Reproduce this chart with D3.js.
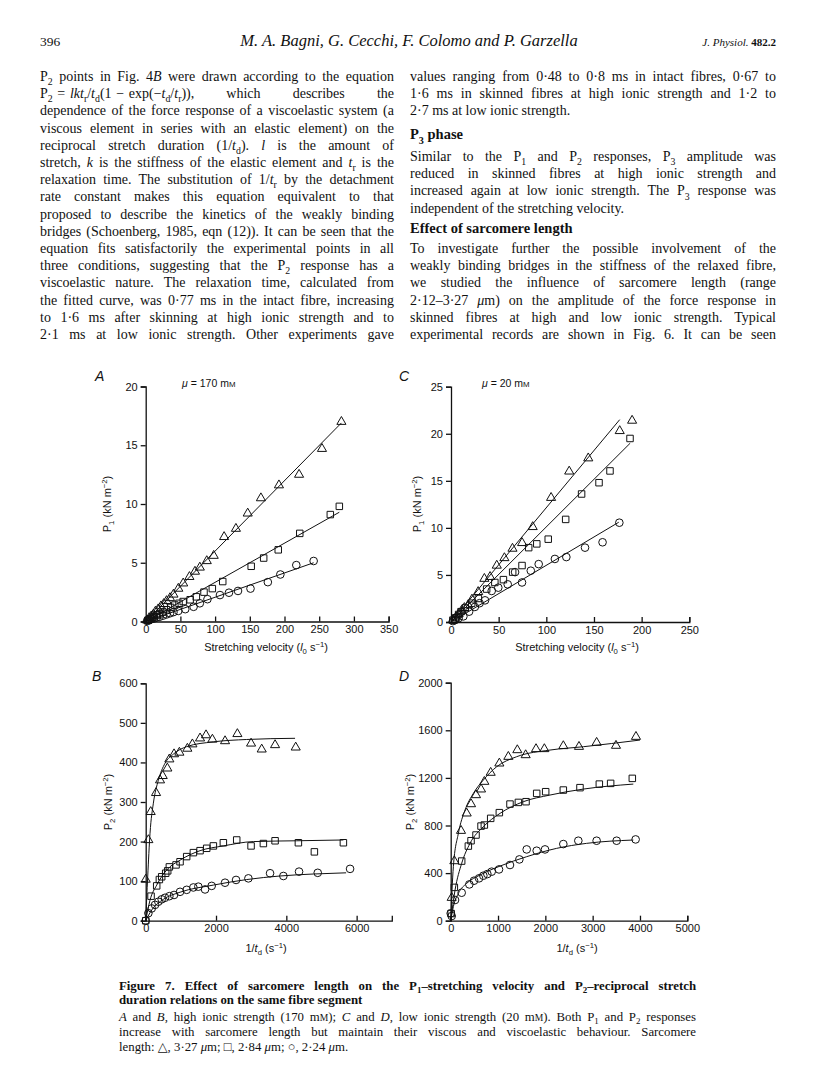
<!DOCTYPE html>
<html><head><meta charset="utf-8">
<script src="https://cdn.jsdelivr.net/npm/d3@7"></script>
<style>body{margin:0;background:#fff}svg{display:block}</style>
</head><body>
<svg id="page" width="816" height="1091"></svg>
<script>
// ---------------- DATA ----------------
// Panel A: P1 (kN m-2) vs stretching velocity (l0 s-1), mu = 170 mM
const aTri=[[2,0.1],[5,0.3],[8,0.45],[11,0.6],[14,0.85],[18,1.05],[22,1.3],[26,1.5],[30,1.75],[35,2.0],[40,2.3],[47,2.8],[54,3.25],[63,3.8],[71,4.25],[78,4.6],[88,5.15],[98,5.6],[113,7.2],[130,7.9],[147,9.2],[166,10.5],[192,11.6],[221,12.5],[254,14.7],[282,17.0]];
const aSq=[[3,0.1],[6,0.2],[9,0.3],[12,0.4],[16,0.55],[20,0.65],[25,0.8],[30,1.0],[36,1.2],[42,1.4],[48,1.55],[54,1.7],[64,1.85],[73,2.1],[84,2.5],[96,2.8],[111,3.4],[152,4.7],[170,5.4],[191,6.1],[222,7.5],[266,9.1],[279,9.8]];
const aCirc=[[2,0.05],[5,0.1],[8,0.2],[12,0.25],[16,0.35],[20,0.4],[25,0.5],[30,0.6],[35,0.7],[40,0.8],[47,0.9],[57,1.05],[69,1.25],[78,1.55],[89,1.9],[107,2.25],[120,2.45],[133,2.6],[151,2.8],[176,3.35],[194,4.0],[217,4.8],[242,5.15]];
const aFitTri=[[0,0],[282,16.9]];
const aFitSq=[[0,0],[279,9.3]];
const aFitCirc=[[0,0],[242,5.0]];
// Panel C: P1 vs stretching velocity, mu = 20 mM
const cTri=[[2,0.2],[5,0.5],[8,0.85],[11,1.2],[14,1.5],[18,1.8],[22,2.4],[28.5,3.2],[35,4.6],[41,4.8],[48,6.0],[56,6.8],[64.5,7.8],[74.6,8.4],[85.7,10.1],[105,13.2],[124,16.0],[144,17.4],[177,20.3],[190,21.4]];
const cSq=[[2,0.2],[5,0.45],[8,0.8],[10.5,1.1],[15,1.5],[21.7,2.0],[28.7,2.5],[37.4,3.5],[46,4.2],[55,4.5],[64.7,5.3],[74.5,6.0],[81.5,7.9],[90,8.3],[102,8.8],[120.3,10.9],[137,13.6],[155.3,14.8],[166.8,16.05],[187.8,19.5]];
const cCirc=[[2,0.1],[4.2,0.2],[8,0.4],[13,0.6],[19,1.1],[25,1.6],[30,2.0],[35.7,2.3],[42.7,3.3],[49.6,3.65],[59.5,4.0],[67.2,5.3],[74.5,4.2],[83.7,5.45],[92,6.15],[109,6.7],[121,6.9],[140.6,7.9],[159,8.47],[176.6,10.55]];
const cFitTri=[[0,0],[177,21.5]];
const cFitSq=[[0,0],[188,19.0]];
const cFitCirc=[[0,0],[176,10.6]];
// Panel B: P2 (kN m-2) vs 1/td (s-1), mu = 170 mM
const bTri=[[0,104],[76,204],[142,275],[294,323],[408,355],[484,366],[616,385],[673,408],[806,421],[958,425],[1185,435],[1328,446],[1546,461],[1716,469],[1897,458],[2257,454],[2608,472],[2997,448],[3300,433],[3680,444],[4267,438]];
const bSq=[[0,0],[152,62],[313,88],[389,104],[455,111],[569,120],[626,126],[673,136],[863,141],[977,149],[1166,162],[1356,172],[1546,177],[1735,183],[1925,189],[2209,197],[2589,204],[2997,189],[3347,195],[3680,202],[4343,197],[4798,174],[5623,197]];
const bCirc=[[0,0],[76,19],[171,31],[266,40],[360,48],[455,54],[550,58],[673,62],[806,65],[977,73],[1166,78],[1356,84],[1498,86],[1688,79],[1877,88],[2257,96],[2570,103],[2921,107],[3537,120],[3916,113],[4362,124],[4893,121],[5813,131]];
const bFitTri=[[0,0],[57,111],[123,221],[218,297],[360,355],[550,398],[787,421],[1166,440],[1925,452],[2873,458],[4248,461]];
const bFitSq=[[0,0],[123,52],[313,90],[597,128],[977,153],[1546,177],[2209,189],[3063,200],[4296,202],[5623,204]];
const bFitCirc=[[0,0],[171,27],[503,54],[977,72],[1925,90],[2873,104],[3822,113],[4770,118],[5700,121]];
// Panel D: P2 vs 1/td, mu = 20 mM
const dTri=[[21,193],[77,501],[218,756],[338,902],[430,980],[535,1056],[641,1104],[711,1168],[845,1244],[1028,1322],[1218,1378],[1408,1434],[1584,1392],[1803,1443],[1979,1443],[2380,1468],[2711,1462],[3084,1496],[3493,1471],[3915,1546]];
const dSq=[[10,60],[77,280],[232,501],[373,627],[430,672],[535,720],[641,795],[711,804],[845,860],[1028,908],[1253,980],[1430,994],[1592,1000],[1817,1070],[2007,1084],[2380,1098],[2732,1118],[3141,1148],[3380,1154],[3838,1196]];
const dCirc=[[0,62],[21,39],[92,174],[232,235],[394,305],[493,336],[599,356],[690,378],[775,392],[866,412],[1021,431],[1253,468],[1451,515],[1606,599],[1817,588],[1993,599],[2380,644],[2697,672],[3084,672],[3507,672],[3908,683]];
const dFitTri=[[0,0],[56,454],[162,734],[303,930],[479,1070],[690,1182],[972,1294],[1394,1378],[2099,1434],[2803,1462],[4000,1518]];
const dFitSq=[[0,0],[92,258],[232,482],[408,650],[690,790],[1042,902],[1535,1000],[2099,1056],[2803,1106],[3859,1148]];
const dFitCirc=[[0,0],[56,118],[162,230],[338,314],[620,384],[1042,459],[1606,538],[2239,608],[2873,650],[3859,678]];
// Tick values
const aXTicks=[0,50,100,150,200,250,300,350], aYTicks=[0,5,10,15,20];
const cXTicks=[0,50,100,150,200,250], cYTicks=[0,5,10,15,20,25];
const bXTicks=[0,2000,4000,6000], bYTicks=[0,100,200,300,400,500,600];
const dXTicks=[0,1000,2000,3000,4000,5000], dYTicks=[0,400,800,1200,1600,2000];
// Texts
const panelLetters=["A","B","C","D"];
const muLabels=["{i:μ} = 170 m{k:M}","{i:μ} = 20 m{k:M}"];
const p1Title="P{s:1} (kN m{p:−2})", p2Title="P{s:2} (kN m{p:−2})";
const velTitle="Stretching velocity ({i:l}{s:0} s{p:−1})", tdTitle="1/{i:t}{s:d} (s{p:−1})";
const headerLeft="396", headerTitle="M. A. Bagni, G. Cecchi, F. Colomo and P. Garzella";
const leftCol=[
"P{s:2} points in Fig. 4{i:B} were drawn according to the equation",
"P{s:2}\u2004=\u2004{i:lkt}{s:r}/{i:t}{s:d}(1\u2004−\u2004exp(−{i:t}{s:d}/{i:t}{s:r})), which describes the",
"dependence of the force response of a viscoelastic system (a",
"viscous element in series with an elastic element) on the",
"reciprocal stretch duration (1/{i:t}{s:d}). {i:l} is the amount of",
"stretch, {i:k} is the stiffness of the elastic element and {i:t}{s:r} is the",
"relaxation time. The substitution of 1/{i:t}{s:r} by the detachment",
"rate constant makes this equation equivalent to that",
"proposed to describe the kinetics of the weakly binding",
"bridges (Schoenberg, 1985, eqn (12)). It can be seen that the",
"equation fits satisfactorily the experimental points in all",
"three conditions, suggesting that the P{s:2} response has a",
"viscoelastic nature. The relaxation time, calculated from",
"the fitted curve, was 0·77 ms in the intact fibre, increasing",
"to 1·6 ms after skinning at high ionic strength and to",
"2·1 ms at low ionic strength. Other experiments gave"];
const rightCol=[
["values ranging from 0·48 to 0·8 ms in intact fibres, 0·67 to",0,"j"],
["1·6 ms in skinned fibres at high ionic strength and 1·2 to",1,"j"],
["2·7 ms at low ionic strength.",2,"n"],
["P{s:3} phase",3.4,"h"],
["Similar to the P{s:1} and P{s:2} responses, P{s:3} amplitude was",4.65,"j"],
["reduced in skinned fibres at high ionic strength and",5.65,"j"],
["increased again at low ionic strength. The P{s:3} response was",6.65,"j"],
["independent of the stretching velocity.",7.65,"n"],
["Effect of sarcomere length",8.85,"h"],
["To investigate further the possible involvement of the",10,"j"],
["weakly binding bridges in the stiffness of the relaxed fibre,",11,"j"],
["we studied the influence of sarcomere length (range",12,"j"],
["2·12–3·27 {i:μ}m) on the amplitude of the force response in",13,"j"],
["skinned fibres at high and low ionic strength. Typical",14,"j"],
["experimental records are shown in Fig. 6. It can be seen",15,"j"]];
const caption=[
["Figure 7. Effect of sarcomere length on the P{s:1}–stretching velocity and P{s:2}–reciprocal stretch","bj"],
["duration relations on the same fibre segment","b"],
["{i:A} and {i:B}, high ionic strength (170 m{k:M}); {i:C} and {i:D}, low ionic strength (20 m{k:M}). Both P{s:1} and P{s:2} responses","j"],
["increase with sarcomere length but maintain their viscous and viscoelastic behaviour. Sarcomere","j"],
["length: △, 3·27 {i:μ}m; □, 2·84 {i:μ}m; ○, 2·24 {i:μ}m.","n"]];

// ---------------- DRAW ----------------
const svg=d3.select("#page");
svg.append("rect").attr("width",816).attr("height",1091).attr("fill","#fff");
const SERIF="'Liberation Serif','DejaVu Serif',serif", SANS="'Liberation Sans',Arial,sans-serif";

function rich(parent,str,fs,x,y,opts={}){
  const t=parent.append("text").attr("x",x).attr("y",y).attr("font-size",fs)
    .attr("font-family",opts.family||SERIF).attr("fill","#111");
  if(opts.weight) t.attr("font-weight",opts.weight);
  if(opts.style) t.attr("font-style",opts.style);
  if(opts.anchor) t.attr("text-anchor",opts.anchor);
  const re=/\{([sipk]):([^}]*)\}/g; let last=0,m; const segs=[];
  while((m=re.exec(str))){ if(m.index>last) segs.push({k:"n",t:str.slice(last,m.index)}); segs.push({k:m[1],t:m[2]}); last=re.lastIndex; }
  if(last<str.length) segs.push({k:"n",t:str.slice(last)});
  let shift=0; const sub=opts.sub||0.3;
  segs.forEach(s=>{
    const want=s.k==="s"?fs*sub:s.k==="p"?-fs*0.4:0;
    const ts=t.append("tspan").text(s.t);
    if(want!==shift){ts.attr("dy",want-shift);shift=want;}
    if(s.k==="s"||s.k==="p") ts.attr("font-size",fs*0.7);
    if(s.k==="k") ts.attr("font-size",fs*0.75);
    if(s.k==="i") ts.attr("font-style","italic");
  });
  if(opts.width){
    const len=t.node().getComputedTextLength();
    const plain=segs.map(s=>s.t).join("");
    const n=(plain.match(/ /g)||[]).length;
    if(len>opts.width||n===0||opts.fit){ t.attr("textLength",opts.width).attr("lengthAdjust","spacingAndGlyphs"); }
    else t.style("word-spacing",((opts.width-len)/n)+"px");
  }
  return t;
}

// header
const hdr=svg.append("g");
rich(hdr,headerLeft,13.5,40,46);
rich(hdr,headerTitle,16.5,409,46,{style:"italic",anchor:"middle"});
const jp=hdr.append("text").attr("x",776).attr("y",46).attr("text-anchor","end").attr("font-family",SERIF).attr("font-size",11).attr("fill","#111");
jp.append("tspan").attr("font-style","italic").text("J. Physiol. ");
jp.append("tspan").attr("font-weight","bold").text("482.2");

// body columns
const row0=81, rowH=17.2, colL=40, colR=410, colW=354, colWR=366;
const body=svg.append("g");
leftCol.forEach((s,i)=>rich(body,s,14,colL,row0+i*rowH,{width:colW}));
rightCol.forEach(([s,r,k])=>{
  if(k==="h") rich(body,s,14.5,colR,row0+r*rowH,{weight:"bold"});
  else rich(body,s,14,colR,row0+r*rowH,k==="j"?{width:colWR}:{});
});

// panels
const tri=d3.symbol().type(d3.symbolTriangle).size(36);
const sqr=d3.symbol().type(d3.symbolSquare).size(42);
const cir=d3.symbol().type(d3.symbolCircle).size(46);

function panel(cfg){
  const g=svg.append("g");
  const x=d3.scaleLinear().domain(cfg.xDom).range(cfg.xR);
  const y=d3.scaleLinear().domain(cfg.yDom).range(cfg.yR);
  const xa=d3.axisBottom(x).tickValues(cfg.xTicks).tickSizeInner(-5).tickSizeOuter(-5).tickPadding(4).tickFormat(d3.format("d"));
  const ya=d3.axisLeft(y).tickValues(cfg.yTicks).tickSizeInner(5).tickSizeOuter(5).tickPadding(3).tickFormat(d3.format("d"));
  const gx=g.append("g").attr("transform",`translate(0,${cfg.yR[0]})`).call(xa);
  const gy=g.append("g").attr("transform",`translate(${cfg.xR[0]},0)`).call(ya);
  [gx,gy].forEach(a=>{a.attr("font-family",SANS).attr("font-size",11);
    a.selectAll("path,line").attr("stroke","#111").attr("stroke-width",1.3);
    a.selectAll("text").attr("fill","#111");});
  const line=d3.line().x(d=>x(d[0])).y(d=>y(d[1])).curve(cfg.curve||d3.curveLinear);
  const series=[[cfg.fits[0],cfg.pts[0],tri],[cfg.fits[1],cfg.pts[1],sqr],[cfg.fits[2],cfg.pts[2],cir]];
  series.forEach(([fit,pts,sym])=>{
    g.append("path").attr("d",line(fit)).attr("fill","none").attr("stroke","#111").attr("stroke-width",1);
    g.selectAll(null).data(pts).join("path").attr("d",sym)
      .attr("transform",d=>`translate(${x(d[0])},${y(d[1])})`)
      .attr("fill","none").attr("stroke","#111").attr("stroke-width",1);
  });
  rich(g,cfg.letter,14,cfg.letterXY[0],cfg.letterXY[1],{family:SANS,style:"italic"});
  if(cfg.mu) rich(g,cfg.mu,10.5,cfg.muXY[0],cfg.muXY[1],{family:SANS});
  const yt=rich(g,cfg.yTitle,11,0,0,{family:SANS,anchor:"middle"});
  yt.attr("transform",`translate(${cfg.yTitleXY[0]},${cfg.yTitleXY[1]}) rotate(-90)`);
  rich(g,cfg.xTitle,11,cfg.xTitleXY[0],cfg.xTitleXY[1],{family:SANS,anchor:"middle"});
}

panel({xDom:[0,350],xR:[145.7,388.6],yDom:[0,20],yR:[621.5,386.5],xTicks:aXTicks,yTicks:aYTicks,
  pts:[aTri,aSq,aCirc],fits:[aFitTri,aFitSq,aFitCirc],letter:panelLetters[0],letterXY:[95,381],
  mu:muLabels[0],muXY:[182,387],yTitle:p1Title,yTitleXY:[111,504],xTitle:velTitle,xTitleXY:[266,651]});
panel({xDom:[0,7000],xR:[145.7,391.8],yDom:[0,600],yR:[920.7,683.3],xTicks:bXTicks,yTicks:bYTicks,
  pts:[bTri,bSq,bCirc],fits:[bFitTri,bFitSq,bFitCirc],curve:d3.curveMonotoneX,letter:panelLetters[1],letterXY:[92,681],
  yTitle:p2Title,yTitleXY:[112,802],xTitle:tdTitle,xTitleXY:[266,952]});
panel({xDom:[0,250],xR:[451,689.3],yDom:[0,25],yR:[622,386.7],xTicks:cXTicks,yTicks:cYTicks,
  pts:[cTri,cSq,cCirc],fits:[cFitTri,cFitSq,cFitCirc],letter:panelLetters[2],letterXY:[399,381],
  mu:muLabels[1],muXY:[482,387],yTitle:p1Title,yTitleXY:[421,504],xTitle:velTitle,xTitleXY:[577,651]});
panel({xDom:[0,5000],xR:[450.7,687.3],yDom:[0,2000],yR:[920.7,682.7],xTicks:dXTicks,yTicks:dYTicks,
  pts:[dTri,dSq,dCirc],fits:[dFitTri,dFitSq,dFitCirc],curve:d3.curveMonotoneX,letter:panelLetters[3],letterXY:[399,681],
  yTitle:p2Title,yTitleXY:[414,802],xTitle:tdTitle,xTitleXY:[577,952]});

// caption
const capG=svg.append("g");
const capY=[990,1004,1021,1036,1051];
caption.forEach(([s,k],i)=>{
  const o={sub:0.2};
  if(k.includes("b")) o.weight="bold";
  if(k.includes("j")) o.width=577;
  rich(capG,s,12.8,119,capY[i],o);
});
</script>
</body></html>
